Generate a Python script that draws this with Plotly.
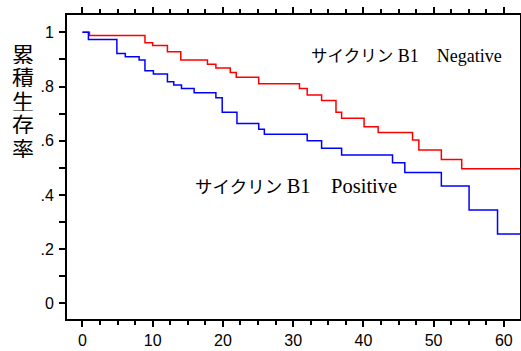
import plotly.graph_objects as go

# Kaplan-Meier steps (time in months, cumulative survival)
neg_time = [0, 1.0, 8.9, 10.0, 12.1, 14.0, 17.8, 19.0, 21.05, 21.9, 25.1, 30.9, 32.0,
            34.05, 36.1, 36.9, 40.1, 42.1, 47.0, 47.9, 51.1, 54.0, 63]
neg_surv = [1.0, 0.988, 0.962, 0.951, 0.928, 0.898, 0.882, 0.868, 0.852, 0.834, 0.810,
            0.793, 0.769, 0.748, 0.705, 0.683, 0.652, 0.630, 0.603, 0.566, 0.531, 0.497, 0.497]

pos_time = [0, 0.85, 4.9, 6.1, 8.07, 8.9, 10.1, 12.1, 13.0, 14.1, 15.9, 19.0, 19.9, 22.0,
            25.1, 25.9, 32.0, 34.05, 36.9, 44.15, 45.9, 51.1, 55.05, 59.1, 63]
pos_surv = [1.0, 0.974, 0.922, 0.910, 0.898, 0.858, 0.846, 0.818, 0.806, 0.793, 0.777,
            0.759, 0.705, 0.664, 0.642, 0.624, 0.600, 0.572, 0.547, 0.519, 0.483, 0.433,
            0.344, 0.256, 0.256]

x_ticks = [0, 10, 20, 30, 40, 50, 60]
y_tickvals = [0, 0.2, 0.4, 0.6, 0.8, 1.0]
y_ticktext = ["0", ".2", ".4", ".6", ".8", "1"]
y_title_chars = ["累", "積", "生", "存", "率"]
label_kana = "サイクリン"
label_neg = "B1　Negative"
label_pos = "B1　Positive"

fig = go.Figure()
fig.add_trace(go.Scatter(x=neg_time, y=neg_surv, mode="lines", line_shape="hv",
                         line=dict(color="#ff0000", width=1.5), showlegend=False))
fig.add_trace(go.Scatter(x=pos_time, y=pos_surv, mode="lines", line_shape="hv",
                         line=dict(color="#0000ff", width=1.5), showlegend=False))

tickfont = dict(family="Liberation Sans, Arial, sans-serif", size=16, color="black")
fig.update_xaxes(range=[-2.2, 62.3], tickvals=x_ticks, ticktext=[str(v) for v in x_ticks],
                 ticks="outside", ticklen=6, tickwidth=1.5, tickcolor="black",
                 showline=True, linecolor="black", linewidth=2, mirror="ticks",
                 showgrid=False, zeroline=False, tickfont=tickfont, automargin=False,
                 minor=dict(dtick=2.5, tick0=0, ticks="outside", ticklen=4, tickwidth=1.5,
                            tickcolor="black", showgrid=False))
fig.update_yaxes(range=[-0.058, 1.064], tickvals=y_tickvals, ticktext=y_ticktext,
                 ticks="outside", ticklen=6, tickwidth=1.5, tickcolor="black",
                 showline=True, linecolor="black", linewidth=2, mirror="ticks",
                 showgrid=False, zeroline=False, tickfont=tickfont, ticklabelstandoff=2,
                 automargin=False,
                 minor=dict(dtick=0.1, tick0=0, ticks="outside", ticklen=6, tickwidth=1.5,
                            tickcolor="black", showgrid=False))


def label(rest, kana_size, latin_size):
    return (f'<span style="font-family:Noto Sans CJK JP;font-size:{kana_size}px">{label_kana}</span>'
            f' <span style="font-size:{latin_size}px">{rest}</span>')


labfont = dict(family="Liberation Serif, Noto Sans CJK JP, serif", size=18, color="black")
fig.add_annotation(x=46.1, y=0.916, text=label(label_neg, 16.5, 18), showarrow=False,
                   font=labfont, xanchor="center", yanchor="middle")
fig.add_annotation(x=30.4, y=0.436, text=label(label_pos, 17.5, 20.5), showarrow=False,
                   font=labfont, xanchor="center", yanchor="middle")

for i, ch in enumerate(y_title_chars):
    fig.add_annotation(xref="paper", yref="paper", x=-0.098, y=0.875 - i * 0.0773,
                       text=ch, showarrow=False, xanchor="center", yanchor="middle",
                       height=22, borderpad=0,
                       font=dict(family="Noto Sans CJK JP", size=22, color="black"))

fig.update_layout(width=521, height=351, margin=dict(l=67, r=1, t=15, b=32, autoexpand=False),
                  plot_bgcolor="white", paper_bgcolor="white")
fig.write_html("out.html")
